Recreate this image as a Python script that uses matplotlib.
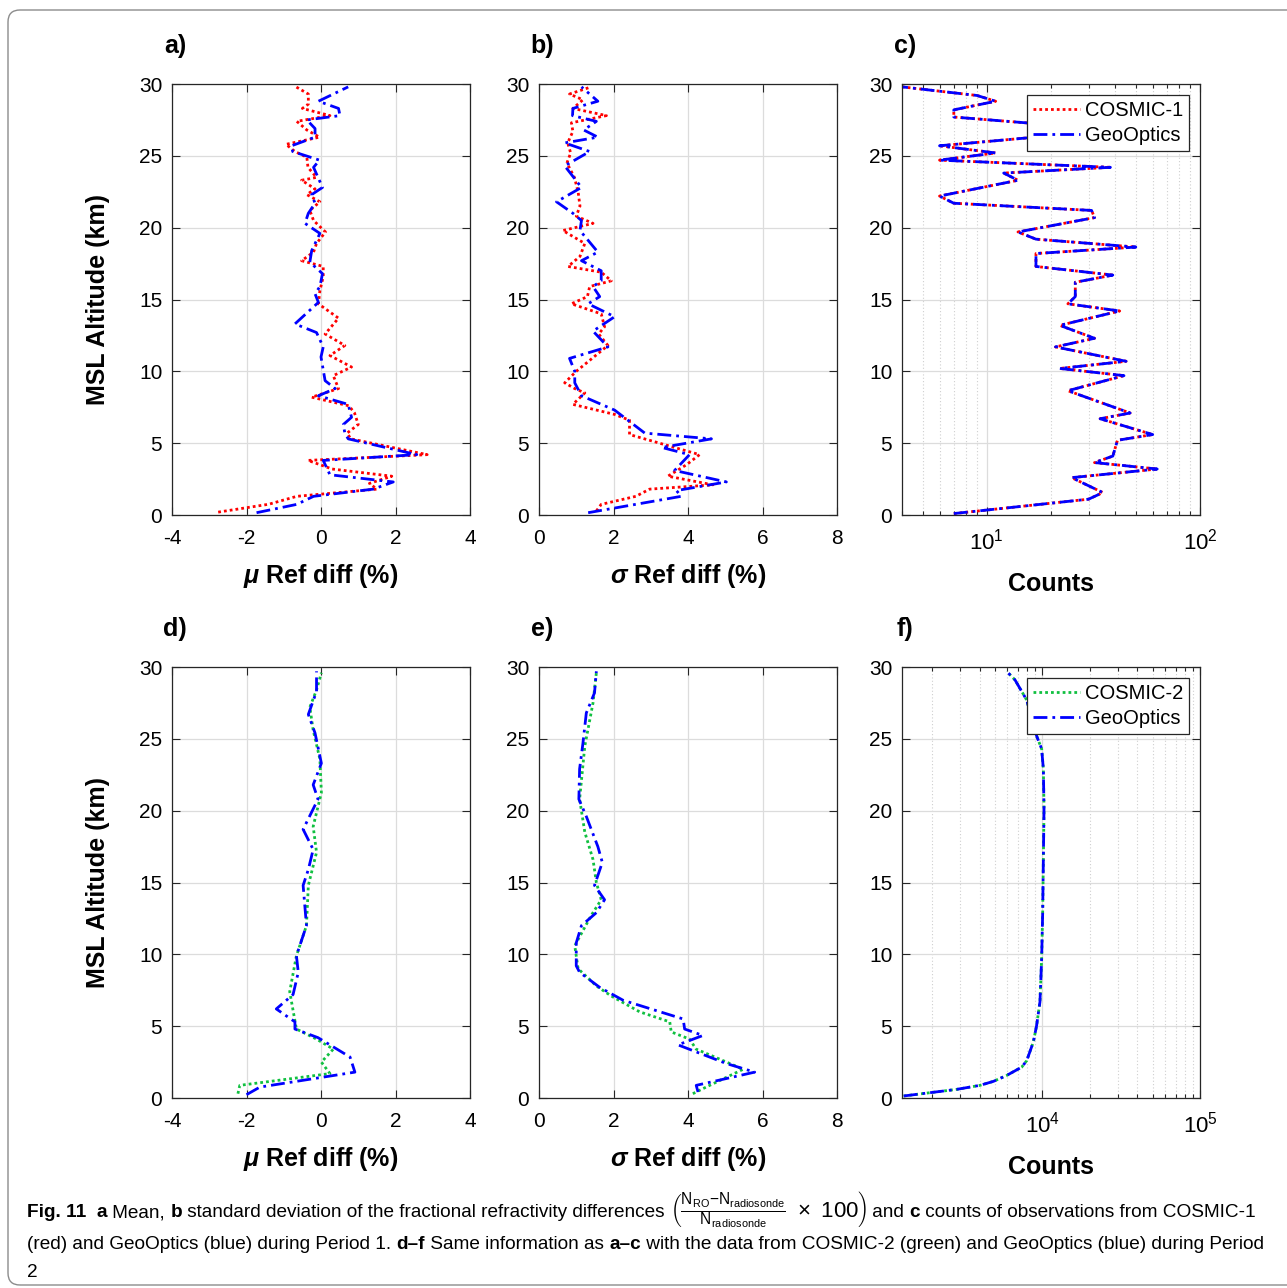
import numpy as np
import matplotlib.pyplot as plt
from matplotlib.patches import FancyBboxPatch
from matplotlib.ticker import LogLocator, NullFormatter

# ---- Period 1: COSMIC-1 vs GeoOptics ----
c1_mean_alt = [0.2, 0.75, 1.3, 1.8, 2.2, 2.7, 3.2, 3.8, 4.2, 5.3, 5.7, 6.3, 7.1, 7.6, 8.2,
               8.8, 9.7, 10.3, 11.1, 11.8, 12.6, 13.7, 14.7, 15.6, 16.6, 17.3, 17.7, 18.3,
               18.9, 19.7, 20.5, 21.2, 21.8, 22.3, 22.7, 23.3, 23.5, 24.2, 24.9, 25.3, 25.8,
               26.3, 26.8, 27.4, 27.8, 28.3, 28.6, 29.3, 29.8]
c1_mean = [-2.76, -1.4, -0.65, 1.5, 1.3, 1.9, 0.3, -0.35, 2.85, 0.8, 0.7, 1.0, 0.9, 0.75, -0.25,
           0.47, 0.33, 0.82, 0.24, 0.64, 0.11, 0.47, -0.07, -0.03, 0.06, 0.06, -0.52, -0.2,
           -0.12, 0.12, -0.2, -0.3, -0.03, -0.38, -0.16, -0.52, -0.12, -0.35, -0.38, -0.7, -0.94,
           -0.04, -0.38, -0.65, 0.24, -0.5, -0.34, -0.34, -0.67]

go1_mean_alt = [0.16, 0.74, 1.3, 1.8, 2.3, 2.8, 3.8, 4.2, 5.3, 5.7, 6.3, 6.8, 7.7, 8.3, 8.8,
                9.35, 11.0, 11.7, 12.7, 13.3, 14.8, 15.4, 15.9, 16.8, 17.6, 18.4, 19.6, 20.3,
                21.0, 21.7, 22.3, 22.8, 24.2, 24.7, 25.3, 25.7, 26.3, 26.9, 27.5, 27.8, 28.3,
                28.8, 29.8]
go1_mean = [-1.73, -0.65, -0.2, 1.4, 1.94, 0.24, 0.06, 2.57, 0.73, 0.64, 0.6, 0.82, 0.73, -0.07,
            0.38, 0.11, 0.0, 0.06, -0.12, -0.7, -0.07, -0.16, -0.03, 0.04, -0.3, -0.25, -0.03,
            -0.43, -0.34, -0.16, -0.25, 0.04, -0.2, -0.04, -0.76, -0.79, -0.16, -0.16, -0.38,
            0.51, 0.47, -0.07, 0.73]

c1_std_alt = [0.28, 0.74, 1.3, 1.8, 2.1, 2.7, 3.5, 4.2, 5.6, 6.6, 7.0, 7.7, 8.5, 8.8, 9.2,
              10.0, 11.8, 12.6, 13.1, 14.0, 14.7, 15.2, 15.9, 16.3, 16.9, 17.3, 18.0, 18.9,
              19.8, 20.3, 20.8, 21.5, 22.5, 23.5, 24.5, 25.2, 25.9, 26.7, 27.3, 27.8, 28.3,
              28.9, 29.3, 29.8]
c1_std = [1.54, 1.67, 2.6, 2.97, 4.67, 3.46, 3.96, 4.31, 2.43, 2.43, 2.03, 0.91, 1.23, 0.96,
          0.69, 1.0, 1.85, 1.6, 1.76, 1.67, 0.87, 1.3, 1.36, 1.94, 1.67, 0.78, 1.1, 1.23, 0.64,
          1.45, 1.0, 1.1, 1.05, 0.95, 0.75, 0.85, 0.77, 0.91, 0.87, 1.81, 0.91, 1.18, 0.82, 1.40]

go1_std_alt = [0.16, 1.3, 1.7, 2.3, 3.1, 4.2, 4.7, 5.3, 5.7, 7.3, 8.3, 9.2, 10.0, 10.9, 11.7,
               12.8, 13.8, 14.7, 15.2, 15.9, 16.3, 17.0, 17.7, 18.3, 19.8, 20.5, 21.0, 21.8,
               22.8, 24.3, 25.3, 25.9, 26.3, 26.8, 27.4, 27.8, 28.3, 28.8, 29.8]
go1_std = [1.32, 3.82, 3.69, 5.03, 3.64, 4.04, 3.3, 4.63, 2.84, 2.03, 1.14, 0.96, 0.96, 0.82,
           1.85, 1.45, 2.03, 1.32, 1.63, 1.45, 1.67, 1.67, 1.14, 1.58, 1.1, 1.14, 0.91, 0.47,
           1.14, 0.69, 1.36, 0.69, 1.58, 1.2, 1.54, 0.9, 0.91, 1.58, 1.14]

p1_count_alt = [0.1, 1.1, 1.56, 2.6, 3.2, 3.65, 4.1, 5.2, 5.6, 6.7, 7.1, 8.65, 9.7, 10.2, 10.7,
                11.7, 12.3, 13.2, 14.2, 14.7, 15.2, 16.2, 16.7, 17.3, 18.2, 18.65, 19.2, 19.7,
                20.7, 21.2, 21.7, 22.2, 23.3, 23.8, 24.2, 24.7, 25.2, 25.7, 26.8, 27.7, 28.2,
                28.8, 29.2, 29.8]
p1_counts = [7, 30, 35, 25, 63, 32, 39, 41, 60, 34, 47, 24, 44, 22, 45, 21, 32, 22, 42, 24, 26,
             26, 39, 17, 17, 50, 17, 14, 32, 31, 7, 6, 14, 12, 38, 6, 11, 6, 40, 7, 7, 11, 9, 4]

# ---- Period 2: COSMIC-2 vs GeoOptics ----
c2_mean_alt = [0.3, 0.88, 1.7, 2.5, 3.4, 4.1, 4.8, 7.4, 9.9, 12.0, 14.8, 17.1, 18.9, 21.25,
               23.6, 25.6, 27.2, 28.4, 29.6]
c2_mean = [-2.23, -2.18, 0.24, 0.01, 0.33, -0.12, -0.66, -0.84, -0.66, -0.39, -0.34, -0.12,
           -0.21, 0.01, -0.03, -0.21, -0.30, -0.12, 0.01]

go2_mean_alt = [0.23, 0.76, 1.8, 2.85, 4.2, 4.8, 5.3, 6.2, 7.2, 8.75, 9.9, 12.0, 14.8, 15.9,
                17.3, 18.7, 20.8, 21.8, 23.3, 25.4, 26.7, 28.3, 29.7]
go2_mean = [-2.0, -1.64, 0.91, 0.78, -0.08, -0.70, -0.70, -1.2, -0.75, -0.61, -0.66, -0.39,
            -0.48, -0.34, -0.21, -0.48, -0.08, -0.21, 0.01, -0.16, -0.34, -0.12, -0.12]

c2_std_alt = [0.3, 0.65, 2.0, 2.85, 3.4, 4.1, 4.6, 5.3, 6.0, 7.1, 7.8, 9.0, 10.6, 12.7, 13.8,
              15.0, 16.6, 18.5, 20.8, 24.5, 27.5, 29.6]
c2_std = [4.13, 4.4, 5.48, 4.72, 4.22, 4.04, 3.55, 3.51, 2.70, 1.94, 1.54, 1.05, 0.96, 1.40,
          1.67, 1.54, 1.45, 1.23, 1.09, 1.23, 1.45, 1.54]

go2_std_alt = [0.42, 0.88, 1.8, 2.4, 3.7, 4.35, 4.8, 5.5, 6.8, 7.7, 8.75, 9.2, 10.8, 12.0,
               12.9, 13.8, 14.8, 16.4, 17.5, 19.6, 20.8, 22.9, 24.7, 26.8, 28.2, 29.7]
go2_std = [4.27, 4.22, 5.79, 5.03, 3.73, 4.40, 3.91, 3.87, 2.26, 1.63, 1.09, 1.0, 1.0, 1.14,
           1.54, 1.76, 1.49, 1.70, 1.58, 1.27, 1.07, 1.09, 1.18, 1.27, 1.49, 1.54]

p2_count_alt = [0.14, 0.37, 0.6, 0.88, 1.16, 1.57, 2.15, 2.6, 3.9, 5.05, 6.7, 9.7, 12.9, 16.6,
                20.1, 22.9, 24.3, 25.2, 27.7, 29.1, 29.7]
p2_counts = [1320, 1940, 2860, 4020, 4900, 5940, 7400, 7960, 8770, 9200, 9660, 9900, 10050,
             10150, 10250, 10150, 9900, 9200, 7960, 6710, 5940]

# ---- styling ----
plt.rcParams['font.family'] = 'Liberation Sans'
plt.rcParams['axes.unicode_minus'] = False
plt.rcParams['mathtext.fontset'] = 'custom'
plt.rcParams['mathtext.rm'] = 'Liberation Sans'
plt.rcParams['mathtext.it'] = 'Liberation Sans:italic:bold'
plt.rcParams['mathtext.bf'] = 'Liberation Sans:bold'

RED = '#ff0000'
BLUE = '#0000ff'
GREEN = '#10c040'
dotted = (0, (1, 1.1))
dashdot = (0, (5, 1.8, 1, 1.8))
LW = 2.0

W, H = 1287, 1288
fig = plt.figure(figsize=(W / 100, H / 100), dpi=100)


def px_axes(left, top, right, bottom):
    return fig.add_axes([left / W, 1 - bottom / H, (right - left) / W, (bottom - top) / H])


def style(ax):
    ax.set_ylim(0, 30)
    ax.set_yticks(np.arange(0, 31, 5))
    ax.tick_params(which='both', direction='in', top=True, right=True, labelsize=15,
                   color='#262626', width=0.8)
    ax.tick_params(which='major', length=6)
    ax.tick_params(which='minor', length=3)
    ax.tick_params(axis='x', pad=10)
    ax.tick_params(axis='y', pad=7)
    for s in ax.spines.values():
        s.set_linewidth(0.9)
        s.set_color('#262626')
    ax.grid(True, which='major', color='#dcdcdc', lw=0.9)
    ax.set_axisbelow(True)


def log_style(ax, lo, hi):
    ax.set_xscale('log')
    ax.set_xlim(lo, hi)
    ax.xaxis.set_major_locator(LogLocator(base=10))
    ax.xaxis.set_minor_locator(LogLocator(base=10, subs=np.arange(2, 10)))
    ax.xaxis.set_minor_formatter(NullFormatter())
    ax.tick_params(axis='x', labelsize=16)
    ax.grid(True, which='minor', axis='x', color='#cfcfcf', lw=0.8, ls=(0, (1, 2)))


rows = [84, 667]
cols = [172, 539, 902]
axes = [[px_axes(c, t, c + 298, t + 431) for c in cols] for t in rows]

# a) / d) mean difference
ax = axes[0][0]
ax.plot(c1_mean, c1_mean_alt, color=RED, ls=dotted, lw=LW)
ax.plot(go1_mean, go1_mean_alt, color=BLUE, ls=dashdot, lw=LW)
ax = axes[1][0]
ax.plot(c2_mean, c2_mean_alt, color=GREEN, ls=dotted, lw=LW)
ax.plot(go2_mean, go2_mean_alt, color=BLUE, ls=dashdot, lw=LW)
for ax in (axes[0][0], axes[1][0]):
    style(ax)
    ax.set_xlim(-4, 4)
    ax.set_xticks(np.arange(-4, 5, 2))

# b) / e) standard deviation
ax = axes[0][1]
ax.plot(c1_std, c1_std_alt, color=RED, ls=dotted, lw=LW)
ax.plot(go1_std, go1_std_alt, color=BLUE, ls=dashdot, lw=LW)
ax = axes[1][1]
ax.plot(c2_std, c2_std_alt, color=GREEN, ls=dotted, lw=LW)
ax.plot(go2_std, go2_std_alt, color=BLUE, ls=dashdot, lw=LW)
for ax in (axes[0][1], axes[1][1]):
    style(ax)
    ax.set_xlim(0, 8)
    ax.set_xticks(np.arange(0, 9, 2))

# c) / f) counts
ax = axes[0][2]
ax.plot(p1_counts, p1_count_alt, color=RED, ls=dotted, lw=LW, label='COSMIC-1')
ax.plot(p1_counts, p1_count_alt, color=BLUE, ls=dashdot, lw=LW, label='GeoOptics')
style(ax)
log_style(ax, 4, 100)
ax = axes[1][2]
ax.plot(p2_counts, p2_count_alt, color=GREEN, ls=dotted, lw=LW, label='COSMIC-2')
ax.plot(p2_counts, p2_count_alt, color=BLUE, ls=dashdot, lw=LW, label='GeoOptics')
style(ax)
log_style(ax, 1288, 1e5)
for ax in (axes[0][2], axes[1][2]):
    leg = ax.legend(loc='upper right', fontsize=14.5, fancybox=False, framealpha=1,
                    edgecolor='#262626', handlelength=2.3, handletextpad=0.25,
                    borderaxespad=0.55, borderpad=0.3, labelspacing=0.3)
    leg.get_frame().set_linewidth(0.9)

# panel letters and axis labels
letters = [['a)', 'b)', 'c)'], ['d)', 'e)', 'f)']]
xlabels = [r'$\mu$ Ref diff (%)', r'$\sigma$ Ref diff (%)', 'Counts']
for r, top in enumerate(rows):
    for c, left in enumerate(cols):
        fig.text((left + 3) / W, 1 - (top - 38) / H, letters[r][c], fontsize=18,
                 fontweight='bold', ha='center', va='center')
        ylab = top + 492 if c < 2 else top + 500
        fig.text((left + 149) / W, 1 - ylab / H, xlabels[c], fontsize=18,
                 fontweight='bold', ha='center', va='center')
    fig.text(98 / W, 1 - (top + 215) / H, 'MSL Altitude (km)', fontsize=18,
             fontweight='bold', ha='center', va='center', rotation=90)

# caption frame
frame = FancyBboxPatch((8, H - 1285), 1320, 1275, boxstyle='round,pad=0,rounding_size=12',
                       transform=None, fc='none', ec='#8c8c8c', lw=1.0)
fig.add_artist(frame)

cap_font = 'Liberation Sans'
cap_size = 13.7
renderer = fig.canvas.get_renderer()


def caption_line(x_px, base_px, parts):
    x = x_px / W
    for part in parts:
        s, w = part[0], part[1]
        size = part[2] if len(part) > 2 else cap_size
        t = fig.text(x, 1 - base_px / H, s, fontsize=size, fontweight=w,
                     family=cap_font, va='baseline', ha='left')
        x += t.get_window_extent(renderer=renderer).width / W


frac = (r'$\left(\frac{\mathrm{N_{RO}{-}N_{radiosonde}}}{\mathrm{N_{radiosonde}}}'
        r'\ \times\ 100\right)$')
caption_line(27, 1217, [('Fig. 11', 'bold'), ('  ', 'normal'), ('a', 'bold'),
                        (' Mean, ', 'normal'), ('b', 'bold'),
                        (' standard deviation of the fractional refractivity differences ',
                         'normal'),
                        (frac, 'normal', 16.0), (' and ', 'normal'), ('c', 'bold'),
                        (' counts of observations from COSMIC-1', 'normal')])
caption_line(27, 1249, [('(red) and GeoOptics (blue) during Period 1. ', 'normal'),
                        ('d\u2013f', 'bold'), (' Same information as ', 'normal'),
                        ('a\u2013c', 'bold'),
                        (' with the data from COSMIC-2 (green) and GeoOptics (blue) during Period',
                         'normal')])
caption_line(27, 1277, [('2', 'normal')])

fig.savefig('out.png', dpi=100)
